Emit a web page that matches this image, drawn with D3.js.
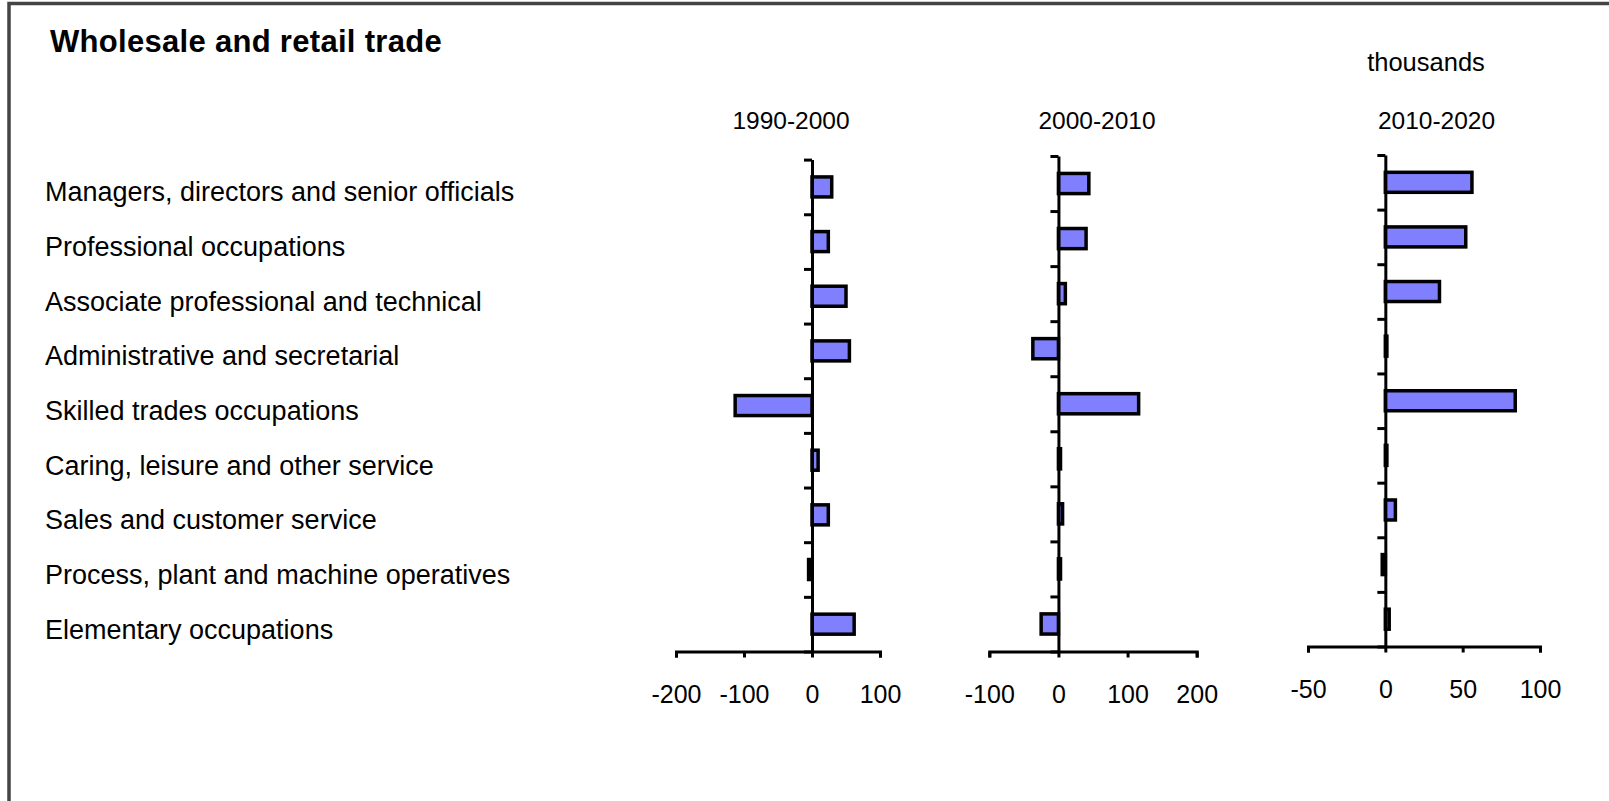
<!DOCTYPE html>
<html>
<head>
<meta charset="utf-8">
<script src="https://cdn.jsdelivr.net/npm/d3@7"></script>
<style>
  html, body { margin: 0; padding: 0; background: #fff; }
  svg { display: block; }
  text { font-family: "Liberation Sans", Arial, sans-serif; fill: #000; }
</style>
</head>
<body>
<svg id="chart" width="1609" height="801"></svg>
<script>
// ---- data ----
const title = "Wholesale and retail trade";
const unitLabel = "thousands";
const categories = [
  "Managers, directors and senior officials",
  "Professional occupations",
  "Associate professional and technical",
  "Administrative and secretarial",
  "Skilled trades occupations",
  "Caring, leisure and other service",
  "Sales and customer service",
  "Process, plant and machine operatives",
  "Elementary occupations"
];
const periods = ["1990-2000", "2000-2010", "2010-2020"];
const values1990 = [29, 24, 50, 55, -113, 9, 24, -5, 62];
const values2000 = [44, 40, 10, -37, 116, 3, 6, 3, -25];
const values2010 = [56, 52, 35, 1, 84, 1, 6.5, -2, 2.5];
const ticks1990 = [-200, -100, 0, 100];
const ticks2000 = [-100, 0, 100, 200];
const ticks2010 = [-50, 0, 50, 100];

// ---- layout ----
const svg = d3.select("#chart");
const W = 1609, H = 801;
svg.append("rect").attr("width", W).attr("height", H).attr("fill", "#fff");

// frame
svg.append("path")
  .attr("d", `M9,${H} V3.5 H${W}`)
  .attr("fill", "none").attr("stroke", "#444").attr("stroke-width", 3.5);

svg.append("text").attr("x", 50).attr("y", 52)
  .attr("font-size", 31).attr("font-weight", "bold").attr("letter-spacing", 0.3).text(title);

svg.append("text").attr("x", 1426).attr("y", 71)
  .attr("text-anchor", "middle").attr("font-size", 25.5).text(unitLabel);

const panels = [
  { vals: values1990, ticks: ticks1990, period: periods[0], xr: [676, 880], yr: [159.6, 651.5], hx: 791 },
  { vals: values2000, ticks: ticks2000, period: periods[1], xr: [989.3, 1196.7], yr: [156, 651.5], hx: 1097 },
  { vals: values2010, ticks: ticks2010, period: periods[2], xr: [1308, 1540], yr: [155, 646.5], hx: 1436.5 }
];

// category labels, aligned to first panel's bands
const yLab = d3.scaleBand().domain(categories).range(panels[0].yr);
svg.append("g").selectAll("text").data(categories).join("text")
  .attr("x", 45)
  .attr("y", d => yLab(d) + yLab.bandwidth() / 2 + 14.5)
  .attr("font-size", 27)
  .text(d => d);

panels.forEach(p => {
  const x = d3.scaleLinear().domain(d3.extent(p.ticks)).range(p.xr);
  const y = d3.scaleBand().domain(categories).range(p.yr).paddingInner(0.634).paddingOuter(0.317);
  const yIdx = d3.scaleLinear().domain([0, categories.length]).range(p.yr);
  const g = svg.append("g");

  // header
  g.append("text").attr("x", p.hx).attr("y", 129)
    .attr("text-anchor", "middle").attr("font-size", 24.5).text(p.period);

  // bars
  g.append("g").selectAll("rect").data(categories).join("rect")
    .attr("x", (d, i) => x(Math.min(0, p.vals[i])))
    .attr("width", (d, i) => Math.abs(x(p.vals[i]) - x(0)))
    .attr("y", d => y(d))
    .attr("height", y.bandwidth())
    .attr("fill", "#8080ff")
    .attr("stroke", "#000")
    .attr("stroke-width", 3.5);

  // y axis
  const ya = g.append("g").attr("transform", `translate(${x(0)},0)`)
    .call(d3.axisLeft(yIdx).tickValues(d3.range(categories.length + 1)).tickFormat("").tickSize(8).tickSizeOuter(0));
  ya.selectAll("path, line").attr("stroke", "#000").attr("stroke-width", 3);

  // x axis
  const xa = g.append("g").attr("transform", `translate(0,${p.yr[1]})`)
    .call(d3.axisBottom(x).tickValues(p.ticks).tickFormat(d => String(d)).tickSize(6).tickSizeOuter(6));
  xa.selectAll("path, line").attr("stroke", "#000").attr("stroke-width", 3);
  xa.selectAll("text").attr("y", 51).attr("dy", null)
    .attr("font-size", 25).attr("font-family", "Liberation Sans, Arial, sans-serif").attr("fill", "#000");
});
</script>
</body>
</html>
